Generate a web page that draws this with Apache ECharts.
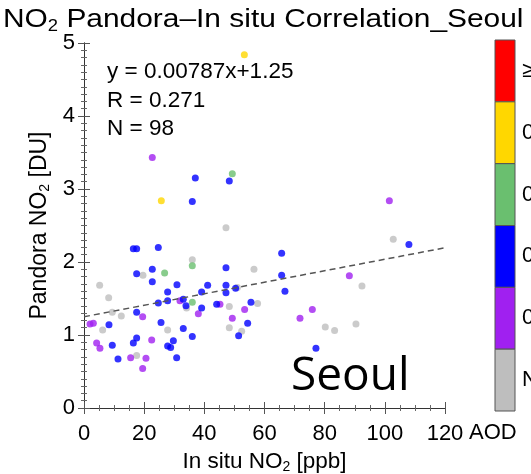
<!DOCTYPE html>
<html><head><meta charset="utf-8">
<script src="https://cdn.jsdelivr.net/npm/echarts@6/dist/echarts.min.js"></script>
<style>html,body{margin:0;padding:0;background:#fff}#c{width:531px;height:474px}</style>
</head><body><div id="c"></div>
<script>
// AOD category bins (legend order top to bottom)
const aodLabels = ['\u22650.8', '0.6-0.8', '0.4-0.6', '0.2-0.4', '0.0-0.2', 'NaN'];
const aodColors = ['#ff0000', '#ffd700', '#6abf6f', '#0000ff', '#a020f0', '#bebebe'];

// [In situ NO2 (ppb), Pandora NO2 (DU)] per AOD group
const ptsNaN = [[47.2,2.47],[36.0,2.03],[56.5,1.90],[19.6,1.82],[5.2,1.68],[8.2,1.51],[34.1,1.37],[48.3,1.39],[57.7,1.43],[9.4,1.31],[12.4,1.26],[6.2,1.07],[27.8,1.07],[48.3,1.10],[52.4,1.05],[17.5,0.72],[102.8,2.31],[92.4,1.67],[80.2,1.11],[83.3,1.06],[90.4,1.15],[51.0,1.65]];
const ptsA0 = [[22.7,3.43],[31.9,1.47],[45.2,1.42],[53.4,1.35],[19.5,1.25],[38.0,1.29],[49.3,1.23],[2.0,1.15],[3.1,1.16],[22.5,0.93],[4.2,0.89],[5.3,0.82],[15.5,0.69],[20.6,0.68],[19.5,0.54],[101.5,2.84],[88.2,1.81],[75.9,1.35],[71.8,1.23]];
const ptsA1 = [[37.0,3.15],[48.3,3.11],[36.0,2.83],[16.4,2.18],[17.5,2.18],[24.7,2.20],[47.2,1.92],[65.7,2.12],[65.7,1.82],[22.7,1.90],[17.5,1.84],[22.7,1.73],[30.9,1.69],[41.1,1.68],[47.2,1.68],[27.8,1.59],[39.1,1.59],[50.4,1.64],[47.2,1.58],[33.0,1.49],[24.7,1.44],[27.8,1.47],[33.9,1.40],[39.1,1.37],[44.1,1.42],[55.5,1.45],[17.5,1.31],[8.3,1.14],[25.6,1.17],[33.0,1.09],[54.4,1.16],[51.4,0.99],[36.0,0.98],[17.5,0.96],[16.4,0.89],[29.7,0.92],[27.8,0.85],[28.8,0.83],[9.4,0.86],[11.3,0.67],[30.8,0.69],[108.0,2.24],[66.8,1.60],[77.1,0.82]];
const ptsA2 = [[49.3,3.21],[36.0,1.95],[26.8,1.85],[36.0,1.45]];
const ptsA3 = [[53.3,4.84],[25.7,2.84]];
const ptsA4 = [];

// regression
const slope = 0.00787, intercept = 1.25;
const statLines = ['y = 0.00787x+1.25', 'R = 0.271', 'N = 98'];

// axes
const xMin = 0, xMax = 120, xStep = 20;
const yMin = 0, yMax = 5, yStep = 1;

const chart = echarts.init(document.getElementById('c'));
const F = 'Liberation Sans, Arial, Helvetica, sans-serif';
const gridL = 84, gridR = 86, gridT = 43, gridB = 66;

function axisCommon(showLabel) {
  return {
    axisLine: {show: true, lineStyle: {color: '#333', width: 1}},
    axisTick: {show: true, inside: true, length: 6, lineStyle: {color: '#555'}},
    splitLine: {show: false},
    axisLabel: {show: showLabel, color: '#000', fontFamily: F, fontSize: 22},
  };
}

const groups = [
  {name: aodLabels[5], data: ptsNaN, color: aodColors[5]},
  {name: aodLabels[4], data: ptsA0, color: aodColors[4]},
  {name: aodLabels[3], data: ptsA1, color: aodColors[3]},
  {name: aodLabels[2], data: ptsA2, color: aodColors[2]},
  {name: aodLabels[1], data: ptsA3, color: aodColors[1]},
  {name: aodLabels[0], data: ptsA4, color: aodColors[0]},
];

const series = groups.map(g => ({
  type: 'scatter', name: g.name, data: g.data, symbolSize: 7,
  itemStyle: {color: g.color}, silent: true, z: 3
}));
series.push({
  type: 'line', data: [[xMin, intercept], [xMax, intercept + slope * xMax]],
  symbol: 'none', lineStyle: {color: '#555', width: 1.5, type: [6, 4]}, z: 4, silent: true
});

// colorbar graphics
const cbX = 495, cbW = 20, cbTop = 40, cbBot = 411;
const segH = (cbBot - cbTop) / aodColors.length;
const graphics = [];
aodColors.forEach((c, i) => {
  graphics.push({type: 'rect', shape: {x: cbX, y: cbTop + i * segH, width: cbW, height: segH},
    style: {fill: c, stroke: '#555', lineWidth: 1}});
  graphics.push({type: 'text', x: 522, y: cbTop + (i + 0.5) * segH,
    style: {text: aodLabels[i], fill: '#000', font: '22px ' + F, textVerticalAlign: 'middle'}});
});
graphics.push({type: 'text', x: 469, y: 433, style: {text: 'AOD', fill: '#000', font: '22px ' + F, textVerticalAlign: 'middle'}});
statLines.forEach((t, i) => {
  graphics.push({type: 'text', x: 107, y: 72 + i * 28.5, style: {text: t, fill: '#000', font: '22.5px ' + F, textVerticalAlign: 'middle'}});
});
graphics.push({type: 'text', x: 291, y: 377, style: {text: 'Seoul', fill: '#000', font: '46px "Open Sans", sans-serif', textVerticalAlign: 'middle'}});
// title
graphics.push({type: 'text', x: 3, y: 4, scaleX: 1.15, style: {
  text: 'NO{sub|2} Pandora\u2013In situ Correlation_Seoul', fill: '#000', font: '26px ' + F,
  rich: {sub: {fontSize: 16, fontFamily: F, fill: '#000', verticalAlign: 'bottom', padding: [15, 0, 0, 0]}}}});

chart.setOption({
  animation: false,
  grid: {left: gridL, right: gridR, top: gridT, bottom: gridB, outerBoundsMode: 'none', containLabel: false},
  xAxis: [
    Object.assign(axisCommon(true), {type: 'value', min: xMin, max: xMax, interval: xStep, position: 'bottom',
      minorTick: {show: true, splitNumber: 4, length: 3, lineStyle: {color: '#666'}},
      name: 'In situ NO{sub|2} [ppb]', nameLocation: 'middle', nameGap: 37,
      nameTextStyle: {fontFamily: F, fontSize: 22.5, color: '#000',
        rich: {sub: {fontSize: 14, fontFamily: F, verticalAlign: 'bottom', padding: [11, 0, 0, 0]}}},
      axisLabel: {show: true, color: '#000', fontFamily: F, fontSize: 22, margin: 15}}),
    Object.assign(axisCommon(false), {type: 'value', min: xMin, max: xMax, interval: xStep, position: 'top',
      minorTick: {show: true, splitNumber: 4, length: 3, lineStyle: {color: '#666'}}})
  ],
  yAxis: [
    Object.assign(axisCommon(true), {type: 'value', min: yMin, max: yMax, interval: yStep, position: 'left',
      minorTick: {show: true, splitNumber: 10, length: 3, lineStyle: {color: '#666'}},
      name: 'Pandora NO{sub|2} [DU]', nameLocation: 'middle', nameGap: 32,
      nameTextStyle: {fontFamily: F, fontSize: 23, color: '#000',
        rich: {sub: {fontSize: 14, fontFamily: F, verticalAlign: 'bottom', padding: [11, 0, 0, 0]}}},
      axisLabel: {show: true, color: '#000', fontFamily: F, fontSize: 22, margin: 9}}),
    Object.assign(axisCommon(false), {type: 'value', min: yMin, max: yMax, interval: yStep, position: 'right',
      minorTick: {show: true, splitNumber: 10, length: 3, lineStyle: {color: '#666'}}})
  ],
  series: series,
  graphic: graphics
});
</script></body></html>
